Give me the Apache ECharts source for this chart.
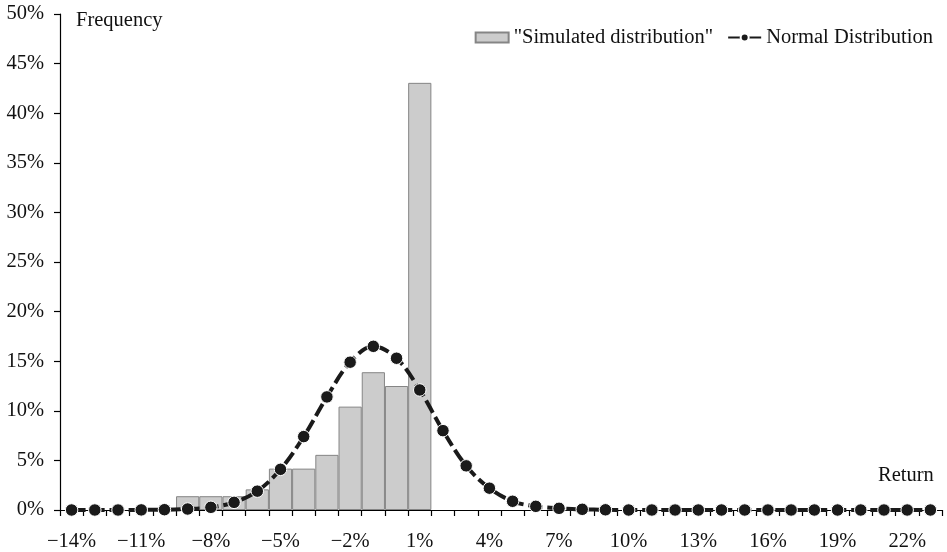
<!DOCTYPE html>
<html>
<head>
<meta charset="utf-8">
<script src="https://cdn.jsdelivr.net/npm/echarts@6/dist/echarts.min.js"></script>
<style>
html,body{margin:0;padding:0;background:#fff;}
#chart{width:947px;height:552px;}
</style>
</head>
<body>
<div id="chart"></div>
<script>
// Return categories (%), -14 .. 23
const categories = ["−14%","−13%","−12%","−11%","−10%","−9%","−8%","−7%","−6%","−5%","−4%","−3%","−2%","−1%","0%","1%","2%","3%","4%","5%","6%","7%","8%","9%","10%","11%","12%","13%","14%","15%","16%","17%","18%","19%","20%","21%","22%","23%"];
// Simulated distribution frequency (%)
const simulated = [0,0,0,0,0,1.39,1.39,1.39,2.08,4.17,4.17,5.56,10.42,13.89,12.5,43.06,0,0,0,0,0,0,0,0,0,0,0,0,0,0,0,0,0,0,0,0,0,0];
// Normal distribution frequency (%)
const normal = [0,0,0,0.01,0.03,0.1,0.27,0.77,1.9,4.1,7.4,11.4,14.9,16.5,15.3,12.1,8.0,4.45,2.2,0.88,0.37,0.17,0.07,0.02,0,0,0,0,0,0,0,0,0,0,0,0,0,0];
// Y-axis ticks
const yMin = 0, yMax = 50, yStep = 5;

const FONT = "'Liberation Serif','Times New Roman',serif";
const FS = 20.5;
const chart = echarts.init(document.getElementById('chart'), null, {renderer:'canvas'});
chart.setOption({
  animation:false,
  backgroundColor:'#fff',
  textStyle:{fontFamily:FONT},
  grid:{left:60,right:5,top:14,bottom:41,containLabel:false},
  legend:{
    right:9, top:22,
    itemWidth:33, itemHeight:10, itemGap:14,
    textStyle:{fontFamily:FONT,fontSize:FS,color:'#111'},
    data:[
      {name:'"Simulated distribution"', icon:'rect'},
      {name:'Normal Distribution'}
    ]
  },
  xAxis:{
    type:'category',
    data:categories,
    boundaryGap:true,
    axisLine:{onZero:false,lineStyle:{color:'#000',width:1.2}},
    axisTick:{show:true,interval:0,inside:false,length:6,lineStyle:{color:'#000',width:1.2}},
    axisLabel:{interval:2,margin:21,fontFamily:FONT,fontSize:FS,color:'#111'},
    splitLine:{show:false}
  },
  yAxis:{
    type:'value',
    min:yMin,max:yMax,interval:yStep,
    axisLine:{show:true,lineStyle:{color:'#000',width:1.2}},
    axisTick:{show:true,inside:false,length:6,lineStyle:{color:'#000',width:1.2}},
    axisLabel:{formatter:'{value}%',margin:16,fontFamily:FONT,fontSize:FS,color:'#111'},
    splitLine:{show:false}
  },
  graphic:[
    {type:'text',left:76,top:10,style:{text:'Frequency',font:FS+"px 'Liberation Serif'",fill:'#111'}},
    {type:'text',left:878,top:465,style:{text:'Return',font:FS+"px 'Liberation Serif'",fill:'#111'}}
  ],
  series:[
    {
      name:'"Simulated distribution"',
      type:'bar',
      data:simulated.map(v => v === 0 ? '-' : v),
      barCategoryGap:'0%',
      itemStyle:{color:'#cccccc',borderColor:'#858585',borderWidth:1},
      z:1
    },
    {
      name:'Normal Distribution',
      type:'line',
      data:normal,
      smooth:0.35,
      symbol:'circle',
      symbolSize:12.5,
      lineStyle:{color:'#1a1a1a',width:4,type:[14,5]},
      itemStyle:{color:'#1a1a1a',borderColor:'#ffffff',borderWidth:1},
      z:3
    }
  ]
});
</script>
</body>
</html>
